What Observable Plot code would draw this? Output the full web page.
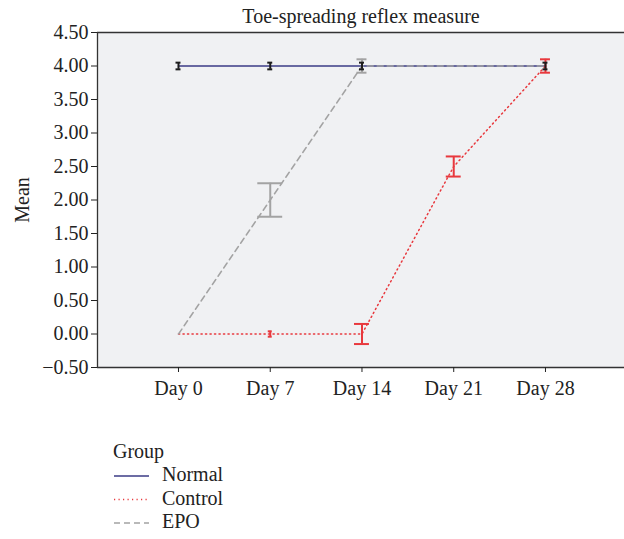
<!DOCTYPE html>
<html>
<head>
<meta charset="utf-8">
<script src="https://cdn.jsdelivr.net/npm/d3@7"></script>
<script src="https://cdn.jsdelivr.net/npm/@observablehq/plot@0.6"></script>
<style>
  body { margin: 0; background: #fff; }
  #chart { position: relative; width: 624px; height: 539px; font-family: "Liberation Serif", "DejaVu Serif", serif; color: #222; }
  #legend { position: absolute; left: 0; top: 400px; }
</style>
</head>
<body>
<div id="chart"></div>
<script>
// Time points and their labels
const days = [0, 7, 14, 21, 28];
const dayLabels = ["Day 0", "Day 7", "Day 14", "Day 21", "Day 28"];

// Group means and half-widths of the error bars (null = not measured)
const groups = ["Normal", "Control", "EPO"];
const normalMean  = [4.0, 4.0, 4.0, null, 4.0];
const normalErr   = [0.05, 0.05, 0.05, null, 0.05];
const controlMean = [0.0, 0.0, 0.0, 2.5, 4.0];
const controlErr  = [0.0, 0.04, 0.15, 0.15, 0.10];
const epoMean     = [0.0, 2.0, 4.0, null, 4.0];
const epoErr      = [0.0, 0.25, 0.10, null, 0.0];

const yTicks = [-0.5, 0, 0.5, 1, 1.5, 2, 2.5, 3, 3.5, 4, 4.5];

const colors = { Normal: "#3b3b86", Control: "#e8383d", EPO: "#a3a3a3" };
const barColors = { Normal: "#1c1c1c", Control: "#e8383d", EPO: "#a3a3a3" };
const dashes = { Normal: null, Control: "1.2,3.3", EPO: "6,4" };

function rows(group, means, errs) {
  return days.map((d, i) => ({ group, day: d, mean: means[i], err: errs[i] }))
             .filter(r => r.mean != null);
}
const data = {
  Normal: rows("Normal", normalMean, normalErr),
  Control: rows("Control", controlMean, controlErr),
  EPO: rows("EPO", epoMean, epoErr)
};

// cap half-width grows with the size of the interval (in day units per mean unit)
const capScale = 3.8;
const xDomain = [-6.18, 34.03];
const fontSize = 20;

function errorBars(group) {
  const r = data[group].filter(d => d.err > 0);
  const c = barColors[group];
  return [
    Plot.ruleX(r, { x: "day", y1: d => d.mean - d.err, y2: d => d.mean + d.err, stroke: c, strokeWidth: 2 }),
    Plot.ruleY(r, { y: d => d.mean + d.err, x1: d => d.day - d.err * capScale, x2: d => d.day + d.err * capScale, stroke: c, strokeWidth: 2 }),
    Plot.ruleY(r, { y: d => d.mean - d.err, x1: d => d.day - d.err * capScale, x2: d => d.day + d.err * capScale, stroke: c, strokeWidth: 2 })
  ];
}

const plot = Plot.plot({
  width: 624,
  height: 400,
  marginLeft: 97,
  marginRight: 0,
  marginTop: 32,
  marginBottom: 33,
  style: { fontFamily: "Liberation Serif, DejaVu Serif, serif", fontSize: fontSize + "px", color: "#222", background: "transparent" },
  x: { domain: xDomain },
  y: { domain: [-0.5, 4.5] },
  marks: [
    Plot.frame({ fill: "#f0f1f3", stroke: null }),
    Plot.ruleY([-0.5, 4.5], { stroke: "#333", strokeWidth: 1.3 }),
    Plot.ruleX([xDomain[0]], { stroke: "#333", strokeWidth: 1.3 }),
    Plot.axisY({ ticks: yTicks, tickFormat: d3.format(".2f"), tickSize: 6, tickPadding: 3, label: null, fontSize }),
    Plot.axisX({ ticks: days, tickFormat: d => dayLabels[days.indexOf(d)], tickSize: 5, tickPadding: 8, label: null, fontSize }),
    Plot.text(["Mean"], { frameAnchor: "left", dx: -75, rotate: -90, textAnchor: "middle", lineAnchor: "middle", fontSize }),
    Plot.text(["Toe-spreading reflex measure"], { frameAnchor: "top", dy: -16, textAnchor: "middle", lineAnchor: "middle", fontSize }),
    ...groups.map(g => Plot.line(data[g], { x: "day", y: "mean", stroke: colors[g], strokeWidth: g === "Normal" ? 1.6 : 1.5, strokeDasharray: dashes[g] })),
    ...errorBars("EPO"),
    ...errorBars("Control"),
    ...errorBars("Normal")
  ]
});
document.getElementById("chart").appendChild(plot);

// Group legend below the chart
const legend = d3.select("#chart").append("svg")
  .attr("id", "legend").attr("width", 624).attr("height", 139)
  .style("font-family", "Liberation Serif, DejaVu Serif, serif").style("font-size", fontSize + "px");
legend.append("text").attr("x", 113).attr("y", 58).attr("fill", "#222").text("Group");
groups.forEach((g, i) => {
  const y = 81 + i * 23.5;
  legend.append("line").attr("x1", 114).attr("x2", 149).attr("y1", y - 5).attr("y2", y - 5)
    .attr("stroke", colors[g]).attr("stroke-width", g === "Normal" ? 1.6 : 1.3)
    .attr("stroke-dasharray", dashes[g]);
  legend.append("text").attr("x", 162).attr("y", y).attr("fill", "#222").text(g);
});
</script>
</body>
</html>
